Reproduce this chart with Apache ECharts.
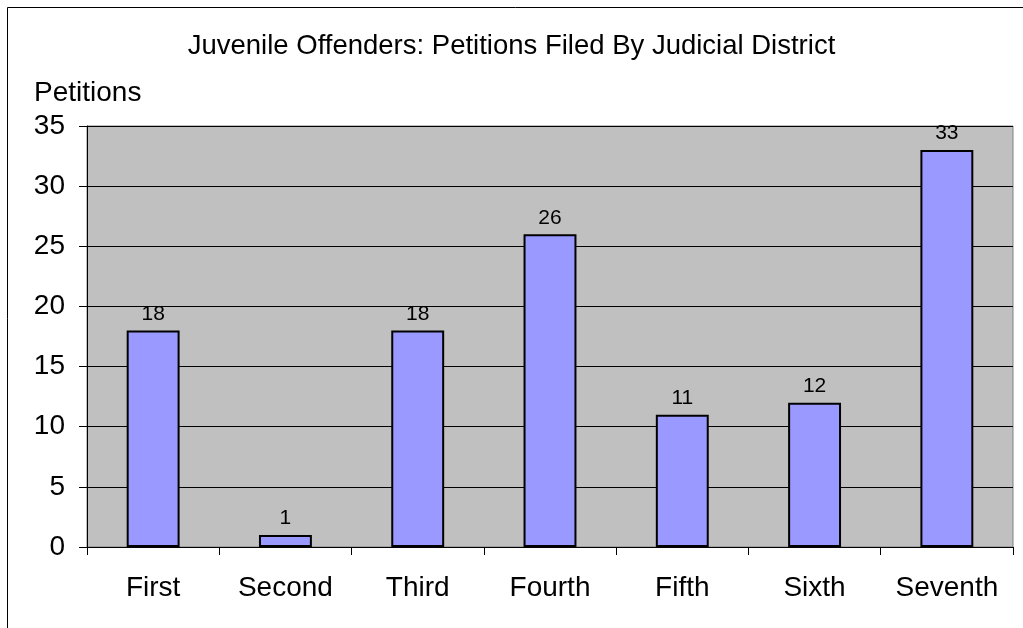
<!DOCTYPE html>
<html>
<head>
<meta charset="utf-8">
<script src="https://cdn.jsdelivr.net/npm/echarts@6/dist/echarts.min.js"></script>
<style>
  html, body { margin: 0; padding: 0; background: #fff; }
  #chart { width: 1023px; height: 628px; }
</style>
</head>
<body>
<div id="chart"></div>
<script>
// data
var districts = ['First', 'Second', 'Third', 'Fourth', 'Fifth', 'Sixth', 'Seventh'];
var petitions = [18, 1, 18, 26, 11, 12, 33];
var yTicks = { min: 0, max: 35, interval: 5 };

var chart = echarts.init(document.getElementById('chart'));
var font = 'Liberation Sans, Arial, sans-serif';

var option = {
  animation: false,
  backgroundColor: '#fff',
  textStyle: { fontFamily: font },
  graphic: [{
    type: 'rect',
    shape: { x: 7.5, y: 7.5, width: 1100, height: 700 },
    style: { fill: null, stroke: '#000', lineWidth: 1 }
  }],
  title: [
    {
      text: 'Juvenile Offenders: Petitions Filed By Judicial District',
      left: 'center',
      top: 27,
      textStyle: { fontFamily: font, fontSize: 27.5, fontWeight: 'normal', color: '#000' }
    },
    {
      text: 'Petitions',
      left: 29,
      top: 74,
      textStyle: { fontFamily: font, fontSize: 28, fontWeight: 'normal', color: '#000' }
    }
  ],
  grid: {
    left: 87,
    top: 126,
    right: 10,
    bottom: 81,
    show: true,
    backgroundColor: '#C0C0C0',
    borderColor: '#808080',
    borderWidth: 1
  },
  xAxis: {
    type: 'category',
    data: districts,
    axisLine: { lineStyle: { color: '#000', width: 1 } },
    axisTick: { show: true, length: 8, interval: 0, alignWithLabel: false, lineStyle: { color: '#000' } },
    axisLabel: { interval: 0, margin: 27, fontFamily: font, fontSize: 28, color: '#000' },
    splitLine: { show: false }
  },
  yAxis: {
    type: 'value',
    min: yTicks.min,
    max: yTicks.max,
    interval: yTicks.interval,
    axisLine: { show: true, lineStyle: { color: '#000', width: 1 } },
    axisTick: { show: true, length: 8, lineStyle: { color: '#000' } },
    axisLabel: { margin: 22, fontFamily: font, fontSize: 28, color: '#000' },
    splitLine: { show: true, lineStyle: { color: '#000', width: 1 } }
  },
  series: [{
    type: 'bar',
    data: petitions,
    barWidth: '40%',
    itemStyle: { color: '#9999FF', borderColor: '#000', borderWidth: 2 },
    label: {
      show: true,
      position: 'top',
      distance: 6,
      fontFamily: font,
      fontSize: 21,
      color: '#000'
    }
  }]
};

chart.setOption(option);
</script>
</body>
</html>
